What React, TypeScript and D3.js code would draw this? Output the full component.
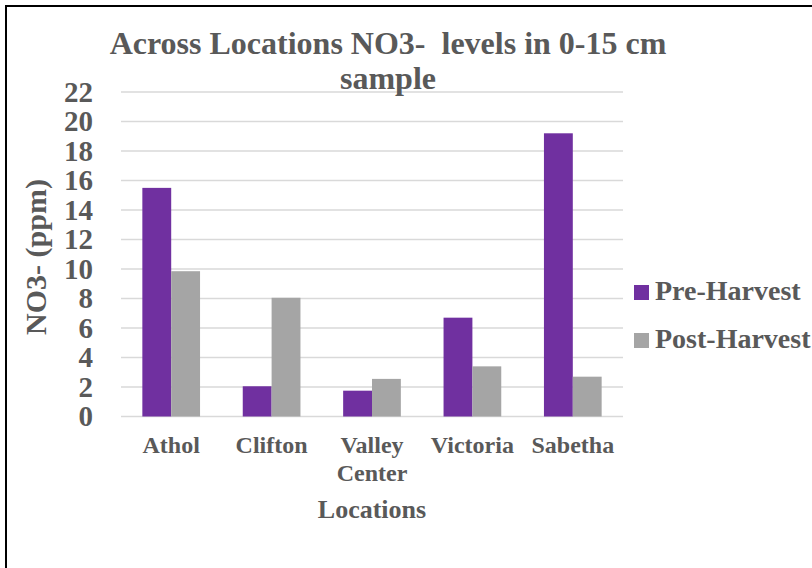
import * as d3 from "d3";
import React, { useEffect, useRef } from "react";

// Chart data
const locations = ["Athol", "Clifton", "Valley Center", "Victoria", "Sabetha"];
const seriesNames = ["Pre-Harvest", "Post-Harvest"];
const preHarvest = [15.5, 2.05, 1.75, 6.7, 19.2];
const postHarvest = [9.85, 8.05, 2.55, 3.4, 2.7];
const yTicks = [0, 2, 4, 6, 8, 10, 12, 14, 16, 18, 20, 22];

const colors = ["#7030A0", "#A5A5A5"];
const textColor = "#595959";
const font = "'Liberation Serif', 'Times New Roman', serif";

const App: React.FC = () => {
  const ref = useRef<SVGSVGElement>(null);

  useEffect(() => {
    const width = 812;
    const height = 568;
    const margin = { top: 92, right: 189, bottom: 151.5, left: 121 };

    d3.select(ref.current).selectAll("*").remove();

    const svg = d3.select(ref.current)
      .attr("width", width)
      .attr("height", height)
      .style("font-family", font)
      .style("font-weight", "bold");

    // white background + frame
    svg.append("rect")
      .attr("width", width)
      .attr("height", height)
      .attr("fill", "#ffffff");
    svg.append("rect")
      .attr("x", 6)
      .attr("y", 6)
      .attr("width", width + 20)
      .attr("height", height + 20)
      .attr("fill", "none")
      .attr("stroke", "#000000")
      .attr("stroke-width", 2);

    const x0 = d3.scaleBand()
      .domain(locations)
      .range([margin.left, width - margin.right]);

    const x1 = d3.scaleBand()
      .domain(seriesNames)
      .range([0, x0.bandwidth()])
      .paddingOuter(0.74);

    const y = d3.scaleLinear()
      .domain([0, 22])
      .range([height - margin.bottom, margin.top]);

    // gridlines
    svg.append("g")
      .selectAll("line")
      .data(yTicks)
      .join("line")
      .attr("x1", margin.left)
      .attr("x2", width - margin.right)
      .attr("y1", (d) => y(d))
      .attr("y2", (d) => y(d))
      .attr("stroke", "#D9D9D9")
      .attr("stroke-width", 1.5);

    // y tick labels
    svg.append("g")
      .selectAll("text")
      .data(yTicks)
      .join("text")
      .attr("x", 93)
      .attr("y", (d) => y(d))
      .attr("dy", "0.34em")
      .attr("text-anchor", "end")
      .attr("fill", textColor)
      .style("font-size", "29px")
      .text((d) => d);

    // bars
    const series = [preHarvest, postHarvest];
    seriesNames.forEach((name, si) => {
      svg.append("g")
        .selectAll("rect")
        .data(locations)
        .join("rect")
        .attr("x", (d) => x0(d)! + x1(name)!)
        .attr("y", (d, i) => y(series[si][i]))
        .attr("width", x1.bandwidth())
        .attr("height", (d, i) => y(0) - y(series[si][i]))
        .attr("fill", colors[si]);
    });

    // category labels
    const cat = svg.append("g")
      .selectAll("text")
      .data(locations)
      .join("text")
      .attr("x", (d) => x0(d)! + x0.bandwidth() / 2)
      .attr("y", 453)
      .attr("text-anchor", "middle")
      .attr("fill", textColor)
      .style("font-size", "24px");
    cat.each(function (d) {
      const words = d.split(" ");
      const t = d3.select(this);
      words.forEach((w, i) => {
        t.append("tspan")
          .attr("x", x0(d)! + x0.bandwidth() / 2)
          .attr("dy", i === 0 ? 0 : 28)
          .text(w);
      });
    });

    // x axis title
    svg.append("text")
      .attr("x", (margin.left + width - margin.right) / 2)
      .attr("y", 518)
      .attr("text-anchor", "middle")
      .attr("fill", textColor)
      .style("font-size", "26px")
      .text("Locations");

    // y axis title
    svg.append("text")
      .attr("transform", `translate(46,257) rotate(-90)`)
      .attr("text-anchor", "middle")
      .attr("fill", textColor)
      .style("font-size", "30px")
      .text("NO3- (ppm)");

    // chart title
    const title = svg.append("text")
      .attr("text-anchor", "middle")
      .attr("fill", textColor)
      .style("font-size", "32px")
      .style("white-space", "pre");
    title.append("tspan").attr("x", 388).attr("y", 54).text("Across Locations NO3-  levels in 0-15 cm");
    title.append("tspan").attr("x", 388).attr("y", 89).text("sample");

    // legend
    const legend = svg.append("g")
      .selectAll("g")
      .data(seriesNames)
      .join("g")
      .attr("transform", (d, i) => `translate(634,${285 + i * 48})`);
    legend.append("rect")
      .attr("width", 15)
      .attr("height", 15)
      .attr("fill", (d, i) => colors[i]);
    legend.append("text")
      .attr("x", 21)
      .attr("y", 15)
      .attr("fill", textColor)
      .style("font-size", "28px")
      .text((d) => d);
  }, []);

  return (
    <div style={{ position: "absolute", left: 0, top: 0 }}>
      <svg ref={ref}></svg>
    </div>
  );
};

export default App;
